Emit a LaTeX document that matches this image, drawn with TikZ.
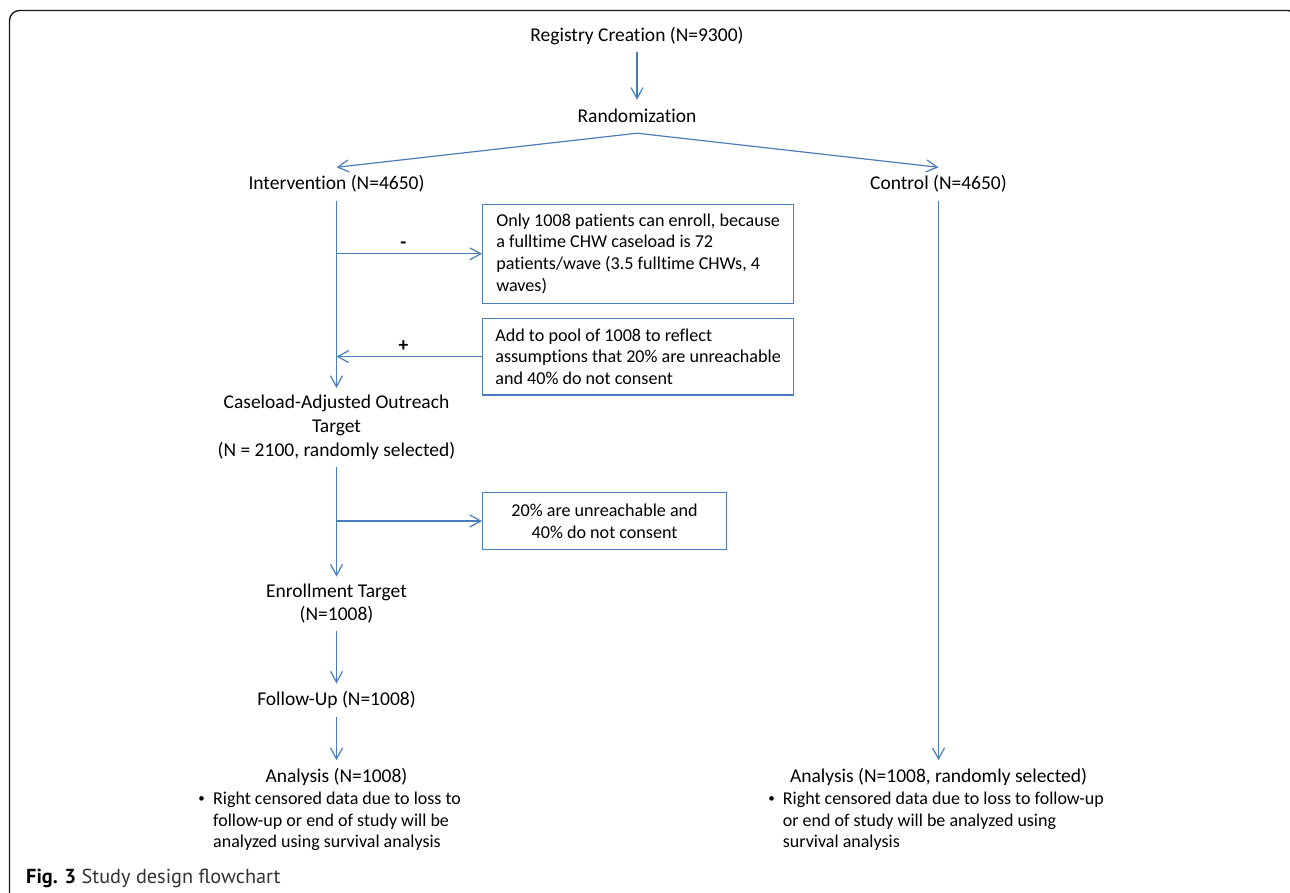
\documentclass[tikz,border=0pt]{standalone}
\usepackage{fontspec}
\setmainfont{Carlito}[Ligatures=NoCommon]
\newfontfamily\captionfont{PT Sans}
\usetikzlibrary{arrows.meta,positioning,calc}
\definecolor{flowblue}{HTML}{4A7EBB}
\definecolor{framegray}{HTML}{1A1A1A}
\tikzset{
	>={Straight Barb[length=11pt,width=12pt]},
	stage/.style={
		align=center,
		inner xsep=0pt,
		inner ysep=7pt,
		font=\fontsize{19.5}{24}\selectfont
	},
	oneline/.style={
		stage,
		text height=15pt,
		text depth=4pt
	},
	notebox/.style={
		draw=flowblue,
		line width=1.2pt,
		inner xsep=0pt,
		font=\fontsize{18.1}{21.7}\selectfont
	},
	conn/.style={
		->,
		draw=flowblue,
		line width=1.2pt
	}
}

\begin{document}
\begin{tikzpicture}[
	x=1pt, y=-1pt,
	edgemark/.style={above, inner sep=5pt,
		font=\bfseries\fontsize{19.5}{20}\selectfont},
	bulletitem/.style={align=left, anchor=north west, inner sep=0pt,
		font=\fontsize{18}{21.3}\selectfont},
	dot/.style={inner sep=0pt, font=\fontsize{13}{13}\selectfont}
	]
	\useasboundingbox (0,0) rectangle (1290,892);
	\clip (0,0) rectangle (1290,892);
	\draw[framegray, line width=1.4pt, rounded corners=10pt] (9.5,10.5) rectangle (1298,910);
	
	%--------------------
	% Registry and randomization
	%--------------------
	\node[oneline] (reg)  at (637,35.5)  {Registry Creation (N=9300)};
	\node[oneline] (rand) at (637,116.5) {Randomization};
	
	%--------------------
	% Arms
	%--------------------
	\node[oneline] (inter) at (336.5,184) {Intervention (N=4650)};
	\node[oneline] (ctrl)  at (938.5,184) {Control (N=4650)};
	
	%--------------------
	% Intervention arm
	%--------------------
	\node[notebox, anchor=west, align=left, minimum width=311pt, minimum height=99pt] (cap) at (482,253.8)
		{Only 1008 patients can enroll, because\\ a fulltime CHW caseload is 72\\ patients/wave (3.5 fulltime CHWs, 4\\ waves)};
	\node[notebox, anchor=west, align=left, minimum width=311pt, minimum height=76.7pt] (pool) at (482,356.6)
		{Add to pool of 1008 to reflect\\ assumptions that 20\% are unreachable\\ and 40\% do not consent};
	
	\node[stage] (cao) at (336.5,427.5) {Caseload-Adjusted Outreach\\ Target\\ (N = 2100, randomly selected)};
	
	\node[notebox, anchor=west, align=center, minimum width=244pt, minimum height=56.6pt] (loss) at (482,521)
		{20\% are unreachable and\\ 40\% do not consent};
	
	\node[stage, font=\fontsize{19.5}{23.3}\selectfont] (enr) at (336.5,603.6) {Enrollment Target\\ (N=1008)};
	\node[oneline] (fu)  at (336.5,700.2) {Follow-Up (N=1008)};
	\node[oneline] (an1) at (336.5,776.8) {Analysis (N=1008)};
	\node[dot] (an1dot) at (201.5,799.5) {\textbullet};
	\node[bulletitem] (an1txt) at (213,792)
		{Right censored data due to loss to\\ follow-up or end of study will be\\ analyzed using survival analysis};
	
	%--------------------
	% Control arm
	%--------------------
	\node[oneline] (an2) at (938.5,776.8) {Analysis (N=1008, randomly selected)};
	\node[dot] (an2dot) at (771.5,799.5) {\textbullet};
	\node[bulletitem] (an2txt) at (782.7,792)
		{Right censored data due to loss to follow-up\\ or end of study will be analyzed using\\ survival analysis};
	
	%--------------------
	% Connections
	%--------------------
	\draw[conn] (reg) -- (rand);
	\draw[conn] (rand.south) -- (inter.north);
	\draw[conn] (rand.south) -- (ctrl.north);
	\draw[conn] (inter) -- (cao);
	\draw[conn] (inter.south |- cap.west) -- node[edgemark, pos=0.46] {-} (cap.west);
	\draw[conn] (pool.west) -- node[edgemark, pos=0.54] {+} (inter.south |- pool.west);
	\draw[conn] (cao) -- (enr);
	\draw[conn] (cao.south |- loss.west) -- (loss.west);
	\draw[conn] (enr) -- (fu);
	\draw[conn] (fu) -- (an1);
	\draw[conn] (ctrl) -- (an2);
	
	%--------------------
	% Caption
	%--------------------
	\node[anchor=base west, inner sep=0pt, font=\captionfont\fontsize{20.3}{20.3}\selectfont] (figcap) at (26,883.3)
		{\textbf{Fig. 3} \textcolor{black!80}{Study design flowchart}};
\end{tikzpicture}
\end{document}
